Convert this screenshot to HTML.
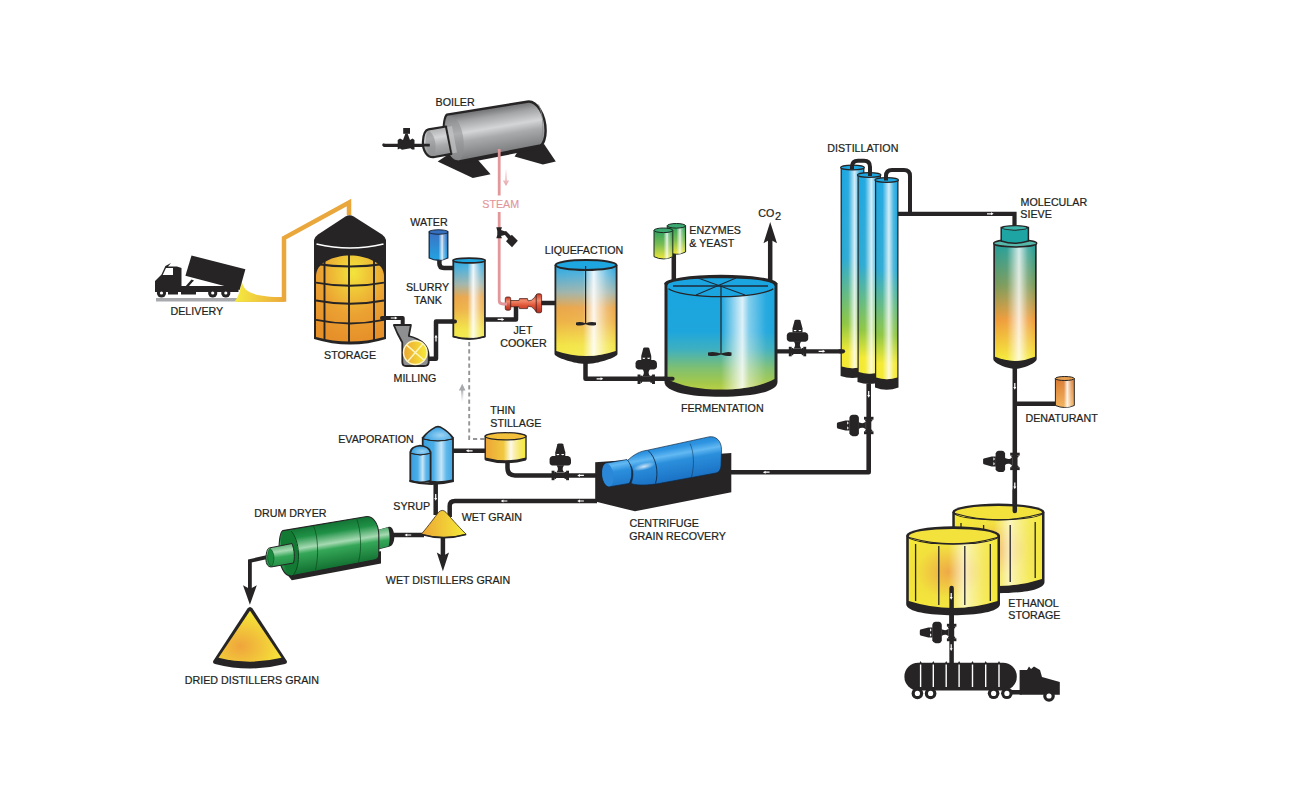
<!DOCTYPE html>
<html><head><meta charset="utf-8">
<style>
html,body{margin:0;padding:0;background:#fff;width:1300px;height:800px;overflow:hidden}
svg{display:block}
text{font-family:"Liberation Sans",sans-serif;font-size:10.7px;fill:#231f20;stroke:#231f20;stroke-width:0.22px}
</style></head>
<body>
<svg width="1300" height="800" viewBox="0 0 1300 800">
<defs>
  <linearGradient id="hl" x1="0" y1="0" x2="1" y2="0">
    <stop offset="0" stop-color="#fff" stop-opacity="0"/>
    <stop offset="0.45" stop-color="#fff" stop-opacity="0.05"/>
    <stop offset="0.63" stop-color="#fff" stop-opacity="0.9"/>
    <stop offset="0.7" stop-color="#fff" stop-opacity="0.65"/>
    <stop offset="0.85" stop-color="#fff" stop-opacity="0.25"/>
    <stop offset="1" stop-color="#fff" stop-opacity="0"/>
  </linearGradient>
  <linearGradient id="hl2" x1="0" y1="0" x2="1" y2="0">
    <stop offset="0" stop-color="#fff" stop-opacity="0"/>
    <stop offset="0.3" stop-color="#fff" stop-opacity="0.05"/>
    <stop offset="0.6" stop-color="#fff" stop-opacity="0.8"/>
    <stop offset="0.82" stop-color="#fff" stop-opacity="0.2"/>
    <stop offset="1" stop-color="#fff" stop-opacity="0"/>
  </linearGradient>
  <linearGradient id="gBOY" x1="0" y1="0" x2="0" y2="1">
    <stop offset="0" stop-color="#26a7e0"/>
    <stop offset="0.1" stop-color="#4cafda"/>
    <stop offset="0.3" stop-color="#9fb4ac"/>
    <stop offset="0.47" stop-color="#eaa64a"/>
    <stop offset="0.62" stop-color="#eeb246"/>
    <stop offset="0.88" stop-color="#f3e446"/>
    <stop offset="1" stop-color="#f4ea4c"/>
  </linearGradient>
  <linearGradient id="gBGY" x1="0" y1="0" x2="0" y2="1">
    <stop offset="0" stop-color="#1aa5e0"/>
    <stop offset="0.45" stop-color="#1ea6dc"/>
    <stop offset="0.62" stop-color="#3fb0bf"/>
    <stop offset="0.8" stop-color="#80c070"/>
    <stop offset="0.94" stop-color="#a6c94a"/>
    <stop offset="1" stop-color="#b8d048"/>
  </linearGradient>
  <linearGradient id="hl3" x1="0" y1="0" x2="1" y2="0">
    <stop offset="0" stop-color="#fff" stop-opacity="0"/>
    <stop offset="0.5" stop-color="#fff" stop-opacity="0"/>
    <stop offset="0.7" stop-color="#fff" stop-opacity="0.85"/>
    <stop offset="0.76" stop-color="#fff" stop-opacity="0.45"/>
    <stop offset="0.92" stop-color="#fff" stop-opacity="0.05"/>
    <stop offset="1" stop-color="#fff" stop-opacity="0"/>
  </linearGradient>
  <linearGradient id="gCol" x1="0" y1="0" x2="0" y2="1">
    <stop offset="0" stop-color="#1ba6e1"/>
    <stop offset="0.45" stop-color="#2aa9d3"/>
    <stop offset="0.78" stop-color="#8ec63f"/>
    <stop offset="0.92" stop-color="#f4ea2f"/>
    <stop offset="1" stop-color="#f4ea2f"/>
  </linearGradient>
  <linearGradient id="gSieve" x1="0" y1="0" x2="0" y2="1">
    <stop offset="0" stop-color="#1f9e9a"/>
    <stop offset="0.35" stop-color="#7a9a5a"/>
    <stop offset="0.65" stop-color="#ef9b38"/>
    <stop offset="1" stop-color="#f5ec36"/>
  </linearGradient>
  <linearGradient id="gGY" x1="0" y1="0" x2="0" y2="1">
    <stop offset="0" stop-color="#2a9f5e"/>
    <stop offset="0.5" stop-color="#7bbd52"/>
    <stop offset="1" stop-color="#f0e83c"/>
  </linearGradient>
  <linearGradient id="gBlue" x1="0" y1="0" x2="0" y2="1">
    <stop offset="0" stop-color="#3b72c4"/>
    <stop offset="1" stop-color="#22a3e2"/>
  </linearGradient>
  <linearGradient id="gOr" x1="0" y1="0" x2="0" y2="1">
    <stop offset="0" stop-color="#d9782e"/>
    <stop offset="1" stop-color="#f3b25a"/>
  </linearGradient>
  <radialGradient id="gGrain" cx="0.55" cy="0.2" r="0.8">
    <stop offset="0" stop-color="#f3e43c"/>
    <stop offset="0.6" stop-color="#eba232"/>
    <stop offset="1" stop-color="#e6902a"/>
  </radialGradient>
  <radialGradient id="gEth" cx="0.45" cy="0.5" r="0.6">
    <stop offset="0" stop-color="#eea640"/>
    <stop offset="0.6" stop-color="#f2e03a"/>
    <stop offset="1" stop-color="#f4e838"/>
  </radialGradient>
  <linearGradient id="gCone" x1="0" y1="0" x2="1" y2="0">
    <stop offset="0" stop-color="#eca535"/>
    <stop offset="1" stop-color="#f6ec38"/>
  </linearGradient>
  <radialGradient id="gCone2" cx="0.35" cy="0.7" r="0.7">
    <stop offset="0" stop-color="#efa43c"/>
    <stop offset="1" stop-color="#f5e838"/>
  </radialGradient>
  <linearGradient id="gGreen" x1="0" y1="0" x2="0" y2="1">
    <stop offset="0" stop-color="#1c8a3c"/>
    <stop offset="0.4" stop-color="#3fb060"/>
    <stop offset="1" stop-color="#137a30"/>
  </linearGradient>
  <linearGradient id="gGray" x1="0" y1="0" x2="0" y2="1">
    <stop offset="0" stop-color="#6b6c6e"/>
    <stop offset="0.45" stop-color="#c9cacc"/>
    <stop offset="1" stop-color="#6e6f71"/>
  </linearGradient>
  <linearGradient id="gCent" x1="0" y1="0" x2="0" y2="1">
    <stop offset="0" stop-color="#1f7fd0"/>
    <stop offset="0.4" stop-color="#49a6ea"/>
    <stop offset="1" stop-color="#1d6fc2"/>
  </linearGradient>
  <linearGradient id="gRed" x1="0" y1="0" x2="0" y2="1">
    <stop offset="0" stop-color="#c83a26"/>
    <stop offset="0.35" stop-color="#f28a6c"/>
    <stop offset="0.6" stop-color="#e0563a"/>
    <stop offset="1" stop-color="#b42e20"/>
  </linearGradient>
  <linearGradient id="gSpill" x1="0" y1="0" x2="1" y2="0">
    <stop offset="0" stop-color="#f5ec40"/>
    <stop offset="1" stop-color="#eca83a"/>
  </linearGradient>
  <linearGradient id="gArrGray" x1="0" y1="1" x2="0" y2="0">
    <stop offset="0" stop-color="#c8c9cb" stop-opacity="0"/>
    <stop offset="1" stop-color="#a0a2a5"/>
  </linearGradient>
  <g id="valve" fill="#262425">
    <rect x="-8.7" y="-4.7" width="2.9" height="9.5"/>
    <rect x="5.8" y="-4.7" width="2.9" height="9.5"/>
    <path d="M-6,-3.4 L-4.5,-3.6 L-4,-2.6 L4,-2.6 L4.5,-3.6 L6,-3.4 L6,3.4 L4.5,3.7 L4,2.6 L-4,2.6 L-4.5,3.7 L-6,3.4 Z"/>
    <path d="M-4.2,-2.8 C-1.8,-4.8 -1.8,-7.8 -3.8,-10.2 L3.8,-10.2 C1.8,-7.8 1.8,-4.8 4.2,-2.8 Z"/>
    <path d="M-7.8,-19.3 L7.8,-19.3 Q10.7,-18.5 10.7,-16 L10.7,-13 Q10.7,-10.5 7.8,-9.8 L-7.8,-9.8 Q-10.7,-10.5 -10.7,-13 L-10.7,-16 Q-10.7,-18.5 -7.8,-19.3 Z"/>
    <path d="M-5,-19 L-5,-23.2 L-2.9,-31.1 Q-2.6,-31.8 -1.6,-31.8 L1.6,-31.8 Q2.6,-31.8 2.9,-31.1 L5,-23.2 L5,-19 Z"/>
    <path d="M-3.9,-21.5 L-0.9,-21.5 Q-1.2,-20.2 -2.4,-20.2 Q-3.6,-20.2 -3.9,-21.5 Z M0.9,-21.5 L3.9,-21.5 Q3.6,-20.2 2.4,-20.2 Q1.2,-20.2 0.9,-21.5 Z" fill="#fff"/>
  </g>
  <path id="arr" d="M-3.4,-0.6 L0.6,-0.6 L0.6,-1.5 L3.3,0 L0.6,1.5 L0.6,0.6 L-3.4,0.6 Z" fill="#fff"/>
</defs>

<!-- ============ PIPES (behind) ============ -->
<g fill="none" stroke="#262425" stroke-width="4.5" stroke-linejoin="round">
  <!-- silo to mill -->
  <path d="M381,318 L402.7,318 L402.7,326" stroke-width="4"/>
  <!-- mill to slurry -->
  <path d="M427,358.7 L436,358.7 L436,321.4 L455,321.4"/>
  <!-- water to slurry -->
  <path d="M439.4,258 L439.4,263.5 Q439.4,268 444,268 L455,268"/>
  <!-- slurry to jet cooker -->
  <path d="M483,319.4 L516,319.4 L516,306"/>
  <!-- jet cooker to liquefaction -->
  <path d="M540,303 L557,303"/>
  <!-- liquefaction to fermentation -->
  <path d="M585.5,360 L585.5,378.8 L672,378.8"/>
  <!-- enzymes -->
  <path d="M673.8,250 L673.8,284"/>
  <!-- CO2 -->
  <path d="M770.2,282 L770.2,238"/>
  <!-- fermentation to distillation -->
  <path d="M776,351.3 L843,351.3" stroke-width="4.2"/>
  <!-- distillation top pipes -->
  
  
  <path d="M896,213.8 L1014.5,213.8 L1014.5,228" stroke-width="4.2" stroke-linejoin="miter"/>
  <!-- distillation bottom to centrifuge -->
  <path d="M868.7,384 L868.7,472.2 L729,472.2" stroke-width="4.6"/>
  <!-- centrifuge to thin stillage (top) -->
  <path d="M597,475.4 L515,475.4 Q507.5,475.4 507.5,468 L507.5,459"/>
  <!-- thin stillage to evaporator -->
  <path d="M487,450.8 L452,450.8"/>
  <!-- evaporator to cone -->
  <path d="M435.7,480 L435.7,515"/>
  <!-- centrifuge to wet grain -->
  <path d="M597,501 L455,501 Q449.7,501 449.7,506 L449.7,517"/>
  <!-- cone to dryer -->
  <path d="M424,535 L390,535"/>
  <!-- WDG arrow stem -->
  <path d="M442.9,536 L442.9,556"/>
  <!-- dryer to DDG -->
  <path d="M268,556.8 L249.9,561 L249.9,590" stroke-width="3.8" stroke-linejoin="miter"/>
  <!-- sieve to ethanol -->
  <path d="M1014.8,366 L1014.8,514"/>
  <path d="M1014.8,403.7 L1057,403.7"/>
  <!-- front tank to truck -->
  <path d="M951.6,586 L951.6,664"/>
  <!-- boiler valve pipe -->
  <path d="M383.7,145.4 L430,145.4" stroke-width="3"/>
</g>
<!-- arrowheads -->
<g fill="#262425">
  <path d="M763.5,243.2 L770.2,222 L777,243.2 L770.2,239.5 Z"/>
  <path d="M436.8,552.5 L442.9,571.3 L449,552.5 L442.9,556 Z"/>
  <path d="M243,585.2 L249.9,604.8 L256.8,585.2 L249.9,589 Z"/>
</g>
<!-- dashed -->
<path d="M469.2,342 L469.2,439 L487,439" fill="none" stroke="#939598" stroke-width="1.9" stroke-dasharray="4.2,3"/>
<rect x="461.1" y="389" width="2.2" height="13" fill="url(#gArrGray)"/>
<path d="M458.9,390.5 L462.2,383.8 L465.5,390.5 Z" fill="#a6a8ab"/>

<!-- orange conveyor -->
<path d="M238,299.5 L284,299.5 L284,238 L349,202.5 L349,215" fill="none" stroke="#e9a73c" stroke-width="4.5" stroke-linejoin="miter"/>

<!-- ============ DELIVERY TRUCK ============ -->
<g id="truck">
  <rect x="156" y="298" width="82" height="3.5" fill="#a7a9ac"/>
  <path d="M241.5,280.5 C243.5,291 249,296.5 284,297.3 L284,301.7 L234.5,301.7 C239,296 240.5,290 241.5,280.5 Z" fill="url(#gSpill)"/>
  <g fill="#262425">
    <path d="M191.5,255.4 L245.4,269.2 L239.6,290 L185.4,275.8 Z"/>
    <path d="M155,281 L161.5,274.6 L165.4,266 L170,263.5 L171,263 L168,266.5 L177,266.5 L181.5,268 L181.5,286 L238.5,286 L238.5,292 L196,292 L196,294.5 L181,294.5 L181,292 L178,292 L178,294.5 L168,294.5 L168,292 L155,292 Z"/>
    <path d="M185.4,286.5 L191.5,279.5 L194,280.5 L189.5,286.5 Z"/>
    <circle cx="161.5" cy="293" r="4.6"/>
    <circle cx="212.7" cy="293" r="4.6"/>
    <circle cx="225.8" cy="293" r="4.6"/>
  </g>
  <path d="M162.7,275 L166,268 L173,268 L173,275 Z" fill="#fff"/>
  <path d="M189,286 L193,281.5 L218,286 Z" fill="#fff"/>
  <g fill="#fff"><circle cx="161.5" cy="293" r="1.6"/><circle cx="212.7" cy="293" r="1.6"/><circle cx="225.8" cy="293" r="1.6"/></g>
</g>

<!-- ============ STORAGE SILO ============ -->
<g id="silo">
  <path d="M314,240 Q315,236.5 318,234.5 L345.5,216.5 Q349.6,214.2 353.7,216.5 L382,234.5 Q385,236.5 386,240 L386,339 Q350,350 314,339 Z" fill="#262425"/>
  <path d="M316.5,244 Q350,252 383.5,244" fill="none" stroke="#fff" stroke-width="1.7"/>
  <path d="M316,276 C316,263 333,255.5 350,255.5 C367,255.5 384,263 384,276 L384,337 Q350,346 316,337 Z" fill="url(#gGrain)"/>
  <g fill="none" stroke="#262425" stroke-width="1.9">
    <path d="M324.5,258 L324.5,341 M349,255 L349,344 M374,258 L374,341"/>
    <path d="M316,264 Q350,269 384,264 M316,282.6 Q350,289 384,282.6 M316,300.5 Q350,307 384,300.5 M316,319.9 Q350,327 384,319.9"/>
  </g>
</g>

<!-- ============ MILL ============ -->
<g id="mill">
  <path d="M393.8,325 L410.9,325 L408.8,336 Q428.7,341 428.7,356 L428.7,362 Q428.7,366 424,366 L406,366 Q402.3,366 402.3,362 L402.3,342.5 L397.5,333.5 Z" fill="#8e8f91" stroke="#262425" stroke-width="1.8" stroke-linejoin="round"/>
  <circle cx="415.3" cy="352.6" r="11.8" fill="url(#gCone)" stroke="#fff5c0" stroke-width="1.5"/>
  <path d="M407,344.3 L423.6,360.9 M423.6,344.3 L407,360.9" stroke="#fff5c0" stroke-width="1.4" transform="rotate(-4 415.3 352.6)"/>
</g>

<!-- ============ WATER ============ -->
<g id="water">
  <path d="M429.2,232 L429.2,258 Q438.5,262.5 447.8,258 L447.8,232 Z" fill="url(#gBlue)" stroke="#1a2a40" stroke-width="1.3"/>
  <path d="M429.2,232 L429.2,258 Q438.5,262.5 447.8,258 L447.8,232 Z" fill="url(#hl3)"/>
  <ellipse cx="438.5" cy="232" rx="9.3" ry="2.2" fill="#3570c0" stroke="#1a2a40" stroke-width="1.1"/>
</g>

<!-- ============ SLURRY TANK ============ -->
<g id="slurry">
  <path d="M453.3,260.5 L453.3,336.5 Q469.1,341 484.9,336.5 L484.9,260.5 Z" fill="url(#gBOY)" stroke="#262425" stroke-width="1.8"/>
  <path d="M453.3,260.5 L453.3,336.5 Q469.1,341 484.9,336.5 L484.9,260.5 Z" fill="url(#hl)"/>
  <path d="M453.3,336 Q469.1,340.5 484.9,336 L484.9,337.5 Q469.1,342 453.3,337.5 Z" fill="#262425"/>
  <ellipse cx="469.1" cy="260.5" rx="15.8" ry="2.4" fill="#1ea6e0" stroke="#262425" stroke-width="1.6"/>
</g>

<!-- ============ JET COOKER ============ -->
<g id="jet" stroke="#3a1410" stroke-width="0.7">
  <path d="M510,300.5 L519,300.5 L519.5,298.6 L527.5,298.6 L528,300.9 Q532,301 534.5,297.5 L536.5,294.5 L536.5,312.3 L534.5,309.5 Q532,306 528,306.2 L527.5,308.6 L519.5,308.6 L519,306.8 L510,306.8 Z" fill="url(#gRed)"/>
  <rect x="505.3" y="297" width="5.4" height="13.2" rx="1.6" fill="url(#gRed)"/>
  <rect x="536.2" y="293.8" width="5.4" height="19" rx="1.6" fill="url(#gRed)"/>
</g>

<!-- ============ LIQUEFACTION ============ -->
<g id="liq">
  <path d="M554.5,265 L554.5,354 C554.5,357 570,362 580,363.6 Q586,364.5 592,363.6 C602,362 617.5,357 617.5,354 L617.5,265 Z" fill="#262425"/>
  <path d="M556.3,265 L556.3,351 Q586,361 615.7,351 L615.7,265 Z" fill="url(#gBOY)"/>
  <path d="M556.3,265 L556.3,351 Q586,361 615.7,351 L615.7,265 Z" fill="url(#hl)"/>
  <ellipse cx="586" cy="265" rx="30.5" ry="5" fill="#1ea6e0" stroke="#262425" stroke-width="2"/>
  <path d="M585.6,266 L585.6,323.8" stroke="#262425" stroke-width="1.2"/>
  <path d="M576,322.5 Q580,321 585.6,323.3 Q591,321 596,322.5 L596,325 Q591,326.5 585.6,324.3 Q580,326.5 576,325 Z" fill="#262425"/>
</g>

<!-- ============ ENZYMES ============ -->
<g id="enz">
  <path d="M667.2,225.8 L667.2,252 Q676.4,256.5 685.6,252 L685.6,225.8 Z" fill="url(#gGY)" stroke="#1a2a20" stroke-width="1"/>
  <path d="M667.2,225.8 L667.2,252 Q676.4,256.5 685.6,252 L685.6,225.8 Z" fill="url(#hl3)"/>
  <ellipse cx="676.4" cy="225.8" rx="9.2" ry="2.3" fill="#3aa870" stroke="#1a2a20" stroke-width="1"/>
  <path d="M654,230.3 L654,256.7 Q663.4,261.2 672.8,256.7 L672.8,230.3 Z" fill="url(#gGY)" stroke="#1a2a20" stroke-width="1"/>
  <path d="M654,230.3 L654,256.7 Q663.4,261.2 672.8,256.7 L672.8,230.3 Z" fill="url(#hl3)"/>
  <ellipse cx="663.4" cy="230.3" rx="9.4" ry="2.3" fill="#3aa870" stroke="#1a2a20" stroke-width="1"/>
</g>

<!-- ============ FERMENTATION ============ -->
<g id="ferm">
  <path d="M664.5,283 L664.5,382 C664.5,392 690,396.8 721,396.8 C752,396.8 777.5,392 777.5,382 L777.5,283 Z" fill="#262425"/>
  <path d="M667.5,284 L667.5,379 C680,386 700,389.6 721,389.6 C742,389.6 762,386 774.5,379 L774.5,284 Z" fill="url(#gBGY)"/>
  <path d="M667.5,284 L667.5,379 C680,386 700,389.6 721,389.6 C742,389.6 762,386 774.5,379 L774.5,284 Z" fill="url(#hl3)"/>
  
  <ellipse cx="720.8" cy="283.6" rx="56.5" ry="8.8" fill="#262425"/>
  <path d="M667.5,285.5 C667.5,281 690,278.3 720.8,278.3 C751.5,278.3 774.3,281 774.3,285.5 L774.3,287.5 C770,292.5 748,296.6 720.8,296.6 C693.5,296.6 672,292.5 667.5,287.5 Z" fill="#1aa5e0"/>
  <path d="M668.5,288.8 C674,293 695,296.6 720.8,296.6 C746.5,296.6 767.5,293 773.3,288.8" fill="none" stroke="#262425" stroke-width="1.3"/>
  <g stroke="#1d2a3a" fill="none">
    <path d="M673,286 L768,286" stroke-width="1.6"/>
    <path d="M698,278 L745,295 M736,278 L696,295" stroke-width="1.1"/>
  </g>
  <path d="M721,286 L721,354" stroke="#262425" stroke-width="1.2"/>
  <path d="M708,352.5 Q714,351 721,353.5 Q728,351 731.5,352.5 L731.5,355.5 Q728,357 721,354.5 Q714,357 708,355.5 Z" fill="#262425"/>
</g>

<!-- ============ DISTILLATION COLUMNS ============ -->
<g id="cols">
  <g>
    <path d="M840.6,167.5 L840.6,376 Q852.5,380 864.4,376 L864.4,167.5 Z" fill="#262425"/>
    <path d="M841.8,168 L841.8,366.5 Q852.5,370 863.2,366.5 L863.2,168 Z" fill="url(#gCol)"/>
    <path d="M841.8,168 L841.8,366.5 Q852.5,370 863.2,366.5 L863.2,168 Z" fill="url(#hl2)"/>
    <ellipse cx="852.5" cy="167.5" rx="11.9" ry="2.4" fill="#1ba6e1" stroke="#262425" stroke-width="1.2"/>
  </g>
  <g>
    <path d="M857.5,175 L857.5,382 Q869.2,386 881,382 L881,175 Z" fill="#262425"/>
    <path d="M858.7,175.5 L858.7,372 Q869.2,375.5 879.8,372 L879.8,175.5 Z" fill="url(#gCol)"/>
    <path d="M858.7,175.5 L858.7,372 Q869.2,375.5 879.8,372 L879.8,175.5 Z" fill="url(#hl2)"/>
    <ellipse cx="869.2" cy="175" rx="11.8" ry="2.4" fill="#1ba6e1" stroke="#262425" stroke-width="1.2"/>
  </g>
  <g>
    <path d="M875,180 L875,387.5 Q886.7,392 898.5,387.5 L898.5,180 Z" fill="#262425"/>
    <path d="M876.2,180.5 L876.2,377.5 Q886.7,381 897.3,377.5 L897.3,180.5 Z" fill="url(#gCol)"/>
    <path d="M876.2,180.5 L876.2,377.5 Q886.7,381 897.3,377.5 L897.3,180.5 Z" fill="url(#hl2)"/>
    <ellipse cx="886.7" cy="180" rx="11.8" ry="2.4" fill="#1ba6e1" stroke="#262425" stroke-width="1.2"/>
  </g>
  <path d="M852,169.5 L852,167 Q852,160.8 858,160.8 L864,160.8 Q870,160.8 870,167 L870,176" fill="none" stroke="#262425" stroke-width="4"/>
  <path d="M886,180.5 L886,176 Q886,170 892,170 L904,170 Q910,170 910,176 L910,213.8" fill="none" stroke="#262425" stroke-width="4"/>
</g>

<!-- ============ MOLECULAR SIEVE ============ -->
<g id="sieve">
  <path d="M993.3,244 L993.3,359 C993.3,362 1000,365.5 1008,367.8 Q1015,370 1022,367.8 C1030,365.5 1036.7,362 1036.7,359 L1036.7,244 Z" fill="#262425"/>
  <path d="M995,244 L995,356.8 Q1015,365 1035,356.8 L1035,244 Z" fill="url(#gSieve)"/>
  <path d="M995,244 L995,356.8 Q1015,365 1035,356.8 L1035,244 Z" fill="url(#hl2)"/>
  <ellipse cx="1015.2" cy="243.3" rx="21.5" ry="3.6" fill="#55b8ab" stroke="#262425" stroke-width="1.5"/>
  <path d="M1001.2,227.5 L1001.2,241 Q1014.8,245.5 1028.4,241 L1028.4,227.5 Z" fill="#1ea5a3" stroke="#262425" stroke-width="1.5"/>
  <ellipse cx="1014.8" cy="227.5" rx="13.6" ry="2.4" fill="#262425"/>
  <ellipse cx="1014.8" cy="228" rx="11.8" ry="1.8" fill="#3db5ad"/>
  <path d="M1003.5,229 Q1014.8,232 1026,229" fill="none" stroke="#262425" stroke-width="0.8"/>
</g>

<!-- ============ DENATURANT ============ -->
<g id="denat">
  <path d="M1055.4,378.5 L1055.4,405.5 Q1064.8,409.5 1074.3,405.5 L1074.3,378.5 Z" fill="url(#gOr)" stroke="#262425" stroke-width="1"/>
  <path d="M1055.4,378.5 L1055.4,405.5 Q1064.8,409.5 1074.3,405.5 L1074.3,378.5 Z" fill="url(#hl)"/>
  <ellipse cx="1064.8" cy="378.5" rx="9.45" ry="2" fill="#e8a050" stroke="#262425" stroke-width="1"/>
</g>

<!-- ============ ETHANOL STORAGE ============ -->
<g id="eth">
  <path d="M952.3,512 L952.3,582 C952.3,590 975,593.2 998.4,593.2 C1022,593.2 1044.5,590 1044.5,582 L1044.5,512 Z" fill="#262425"/>
  <path d="M954.8,513 L954.8,579 Q998.4,593 1042,579 L1042,513 Z" fill="url(#gEth)"/>
  <path d="M954.8,513 L954.8,579 Q998.4,593 1042,579 L1042,513 Z" fill="url(#hl)" opacity="0.75"/>
  <ellipse cx="998.4" cy="512" rx="46.1" ry="8.4" fill="#262425"/>
  <ellipse cx="998.4" cy="512.6" rx="43.6" ry="6.6" fill="#f3e23c"/>
  <path d="M955,513.5 Q998.4,526 1042,513.5" fill="none" stroke="#262425" stroke-width="1.1"/>
  <g stroke="#262425" stroke-width="1.3"><path d="M961,523 L961,578 M983.6,525 L983.6,582 M1010.2,525 L1010.2,582 M1035.2,522 L1035.2,578"/></g>

  <path d="M906.2,535.5 L906.2,604 C906.2,612 930,615.2 953.1,615.2 C976,615.2 1000,612 1000,604 L1000,535.5 Z" fill="#262425"/>
  <path d="M908.8,536 L908.8,601 Q953.1,615 997.5,601 L997.5,536 Z" fill="url(#gEth)"/>
  <path d="M908.8,536 L908.8,601 Q953.1,615 997.5,601 L997.5,536 Z" fill="url(#hl)" opacity="0.75"/>
  <ellipse cx="953.1" cy="535.5" rx="46.9" ry="9.3" fill="#262425"/>
  <ellipse cx="953.1" cy="536.2" rx="44.3" ry="7.3" fill="#f3e23c"/>
  <path d="M909,537.5 Q953.1,550 997.3,537.5" fill="none" stroke="#262425" stroke-width="1.1"/>
  <g stroke="#262425" stroke-width="1.3"><path d="M915.6,544 L915.6,601 M938.8,546 L938.8,605 M964.8,546 L964.8,605 M990.3,544 L990.3,601"/></g>
</g>
<path d="M1014.8,490 L1014.8,511" fill="none" stroke="#262425" stroke-width="4.5" stroke-linecap="round"/>
<path d="M951.6,588 L951.6,625" fill="none" stroke="#262425" stroke-width="4.5" stroke-linecap="round"/>

<!-- ============ TANKER TRUCK ============ -->
<g id="tanker" fill="#262425">
  <rect x="904.4" y="662.8" width="112.4" height="27.7" rx="13.8"/>
  <path d="M1019.6,670 L1027,670 L1029,666.5 L1031,669 L1034,666.5 L1040,670 L1042,677 L1059.8,682 L1059.8,694.7 L1019.6,694.7 Z"/>
  <rect x="1010" y="690" width="12" height="4.5"/>
  <circle cx="917.4" cy="693.4" r="5.8"/><circle cx="930.6" cy="693.4" r="5.8"/>
  <circle cx="993.6" cy="693.3" r="5.8"/><circle cx="1006.9" cy="693.3" r="5.8"/>
  <circle cx="1049" cy="696" r="5.8"/>
  <g fill="#fff"><circle cx="917.4" cy="693.4" r="2.6"/><circle cx="930.6" cy="693.4" r="2.6"/><circle cx="993.6" cy="693.4" r="2.6"/><circle cx="1006.9" cy="693.4" r="2.6"/><circle cx="1049" cy="696" r="2.6"/></g>
  <path d="M919.3000000000001,663.5 L920.6,661 L921.9,663.5 Z M932.0,663.5 L933.3,661 L934.5999999999999,663.5 Z M944.9000000000001,663.5 L946.2,661 L947.5,663.5 Z M957.8000000000001,663.5 L959.1,661 L960.4,663.5 Z M971.2,663.5 L972.5,661 L973.8,663.5 Z M984.4000000000001,663.5 L985.7,661 L987.0,663.5 Z M997.7,663.5 L999,661 L1000.3,663.5 Z"/>
  <g stroke="#fff" stroke-width="1.4"><path d="M920.6,664.5 L920.6,687 M933.3,664.5 L933.3,687 M946.2,664.5 L946.2,687 M959.1,664.5 L959.1,687 M972.5,664.5 L972.5,687 M985.7,664.5 L985.7,687 M999,664.5 L999,687"/></g>
</g>

<!-- ============ BOILER ============ -->
<g id="boiler">
  <path d="M437.7,161.4 L472.8,178 L490.6,174.3 L478,160 L455,150 Z" fill="#262425"/>
  <path d="M514.6,156.5 L542.9,164.5 L555.8,161.4 L544,144 L520,148 Z" fill="#262425"/>
  <path d="M452,159 L540.5,142.5 L544,147.8 L459.2,164.3 Z" fill="#262425"/>
  <linearGradient id="gBoil" gradientUnits="userSpaceOnUse" x1="490" y1="108" x2="498" y2="155">
    <stop offset="0" stop-color="#6e6f71"/>
    <stop offset="0.18" stop-color="#a4a5a7"/>
    <stop offset="0.42" stop-color="#d4d5d6"/>
    <stop offset="0.6" stop-color="#a9aaac"/>
    <stop offset="1" stop-color="#77787a"/>
  </linearGradient>
  <path d="M446.9,114.6 L527,101.7 C537,100 545.5,115 545.6,130.6 C545.7,138 543.5,144 540.5,145.4 L459.2,161.4 C451,163 443.5,150 443.5,136 C443.5,125 444.5,116.5 446.9,114.6 Z" fill="url(#gBoil)" stroke="#262425" stroke-width="2.4" stroke-linejoin="round"/>
  <path d="M447.5,116 C441,124 444,156 458.5,160.5 C463,159 465,150 463,136 C461,124 455,114 447.5,116 Z" fill="#8d8e90" opacity="0.55"/>
  <path d="M538.5,104.5 C544,115 544,136 540,144" fill="none" stroke="#8a8b8d" stroke-width="0.8"/>
  <path d="M428.5,129.4 L446,126.5 L451.5,153.8 L434.6,157 C427,158.5 422.5,150 422.9,141.7 C423.3,134 425.5,130 428.5,129.4 Z" fill="url(#gBoil)" stroke="#262425" stroke-width="2.2" stroke-linejoin="round"/>
  <path d="M428.5,130.5 C424,136 424,152 433,156 C437,152 437,136 428.5,130.5 Z" fill="#909193" opacity="0.6"/>
  <path d="M447,127 L452,126 L457,152.5 L452,153.5 Z" fill="#d0d1d2" opacity="0.5"/>
</g>
<g fill="#262425">
  <path d="M383.2,143.7 L429.8,143.7 L429.8,146.4 L383.2,146.4 Z"/>
  <circle cx="383.6" cy="145" r="1.4"/>
  <path d="M397.7,140 L400,138.5 L403,140 L404.5,136 L405.5,133.5 L407.5,133.5 L408.5,136 L410,140 L412.5,138.5 L414.5,140 L414.5,149.5 L412,149.5 L410.5,148.2 L402,149.8 L400,148.5 L397.7,149.5 Z"/>
  <rect x="403.2" y="128" width="6.8" height="5.8"/>
</g>

<!-- steam -->
<g fill="none" stroke="#e2979a" stroke-width="2.8">
  <path d="M499.2,149 L499.2,195.5"/>
  <path d="M499.2,212 L499.2,300.5 Q499.2,304 503,304 L507,304"/>
  
</g>
<linearGradient id="gSteamArr" x1="0" y1="0" x2="0" y2="1"><stop offset="0" stop-color="#e6a2a5" stop-opacity="0"/><stop offset="1" stop-color="#e6a2a5"/></linearGradient>
<path d="M505.1,168.5 L506.9,168.5 L506.9,180.5 L509.2,180.5 L506,186 L502.8,180.5 L505.1,180.5 Z" fill="url(#gSteamArr)"/>
<text x="482.3" y="207.8" style="fill:#e2979a;stroke:#e2979a;stroke-width:0.15px">STEAM</text>
<!-- ============ EVAPORATION ============ -->
<g id="evap">
  <linearGradient id="gEvap" x1="0" y1="0" x2="1" y2="0">
    <stop offset="0" stop-color="#3a9fdf"/>
    <stop offset="0.35" stop-color="#4aaee8"/>
    <stop offset="0.62" stop-color="#c6e6f8"/>
    <stop offset="0.8" stop-color="#5fb8ec"/>
    <stop offset="1" stop-color="#45a8e4"/>
  </linearGradient>
  <radialGradient id="gEvapTop" cx="0.6" cy="0.6" r="0.6">
    <stop offset="0" stop-color="#9ed4f4"/>
    <stop offset="1" stop-color="#3aa2e2"/>
  </radialGradient>
  <path d="M421.8,481 Q437.8,486 453.9,481 L453.9,437.5 Q449,431 440.5,426.3 Q438,425 435.5,426.3 Q427,431 421.8,437.5 Z" fill="#262425"/>
  <path d="M423.6,479.5 L423.6,439.5 Q437.8,443 452.1,439.5 L452.1,479.5 Q437.8,483 423.6,479.5 Z" fill="url(#gEvap)"/>
  <path d="M423.6,438.5 Q428,432 436,427.8 Q438,427 440,427.8 Q448,432 452.1,438.5 Q437.8,442.5 423.6,438.5 Z" fill="url(#gEvapTop)"/>
  <path d="M423.6,439 Q437.8,443 452.1,439" fill="none" stroke="#262425" stroke-width="1"/>
  <path d="M409.4,481.5 Q420,485 431.5,481.5 L431.5,452 Q430,446 420,444.8 Q410,446 409.4,452 Z" fill="#262425"/>
  <path d="M411.2,480 L411.2,453.8 Q420,456.5 429.7,453.8 L429.7,480 Q420,483 411.2,480 Z" fill="url(#gEvap)"/>
  <path d="M411.2,453 Q412,447 420,446.6 Q428.5,447 429.7,453 Q420,456 411.2,453 Z" fill="url(#gEvapTop)"/>
  <path d="M411.2,453.5 Q420,456.5 429.7,453.5" fill="none" stroke="#262425" stroke-width="1"/>
  <path d="M409.4,480 Q431,486 453.9,480 L453.9,482 Q431,488 409.4,482 Z" fill="#262425"/>
</g>

<!-- ============ THIN STILLAGE ============ -->
<g id="thin">
  <path d="M485.2,436.3 L485.2,459 Q505.6,464.5 526,459 L526,436.3 Z" fill="url(#gCone)" stroke="#262425" stroke-width="1.4"/>
  <path d="M485.2,436.3 L485.2,459 Q505.6,464.5 526,459 L526,436.3 Z" fill="url(#hl)"/>
  <path d="M485.2,457.5 Q505.6,463 526,457.5 L526,460.5 Q505.6,466.2 485.2,460.5 Z" fill="#262425"/>
  <ellipse cx="505.6" cy="436.3" rx="20.4" ry="3.6" fill="#f2c03a" stroke="#262425" stroke-width="1.3"/>
</g>

<!-- ============ CENTRIFUGE ============ -->
<g id="cent">
  <path d="M595.2,462.3 L731.3,453.1 L731.3,492.3 L635,511.3 L595.2,501.5 Z" fill="#262425"/>
  <linearGradient id="gCent2" gradientUnits="userSpaceOnUse" x1="662" y1="440" x2="670" y2="485">
    <stop offset="0" stop-color="#1c7fd0"/>
    <stop offset="0.22" stop-color="#2f95e2"/>
    <stop offset="0.36" stop-color="#62b8f2"/>
    <stop offset="0.5" stop-color="#2b8fdc"/>
    <stop offset="1" stop-color="#186cc0"/>
  </linearGradient>
  <path d="M627,461 C633,455 640,451 647.7,450.2 L708.8,436.9 C716,435.5 721.5,441 721.5,449.6 L721,466 C720.5,470 719,472.5 716,473 L659,483.5 C650,485 638,486 631,483.5 C634,476 634,467 627,461 Z" fill="url(#gCent2)" stroke="#0e2a48" stroke-width="0.7"/>
  <path d="M607,463 L627,459.5 C633,466 633,478 629,483.5 L611,486.5 C605,487.5 602,480 602.1,474.5 C602.2,468 604,463.5 607,463 Z" fill="url(#gCent2)" stroke="#0e2a48" stroke-width="0.7"/>
  <ellipse cx="607.8" cy="475" rx="5.6" ry="11.6" transform="rotate(-8 607.8 475)" fill="#2b88d8"/>
  <path d="M648,450.5 C656,457 659,472 655.5,483.5" fill="none" stroke="#0e2a48" stroke-width="0.9"/>
  <path d="M690,443.5 C694,452 694.5,466 691.5,477" fill="none" stroke="#0e2a48" stroke-width="0.5"/>
  <radialGradient id="gCentHL"><stop offset="0" stop-color="#fff" stop-opacity="0.75"/><stop offset="1" stop-color="#fff" stop-opacity="0"/></radialGradient>
  <ellipse cx="644" cy="466.5" rx="12" ry="3.6" transform="rotate(-14 644 466.5)" fill="url(#gCentHL)"/>
</g>

<!-- ============ CONE (wet grain) ============ -->
<path d="M421.3,534.3 C429,525 435,517 438.5,512.3 Q442.3,508.5 446,512.3 C450,517 457,525 466.2,534.3 Q443.7,541 421.3,534.3 Z" fill="url(#gCone)" stroke="#3a2a10" stroke-width="0.8"/>
<path d="M421.5,534.5 Q443.7,540.8 466,534.5" fill="none" stroke="#262425" stroke-width="1.8"/>

<!-- ============ DRUM DRYER ============ -->
<g id="dryer">
  <linearGradient id="gDry" gradientUnits="userSpaceOnUse" x1="326" y1="520" x2="334" y2="570">
    <stop offset="0" stop-color="#0f6a2e"/>
    <stop offset="0.25" stop-color="#1f9146"/>
    <stop offset="0.47" stop-color="#a6dab2"/>
    <stop offset="0.58" stop-color="#35a758"/>
    <stop offset="1" stop-color="#0e6a2c"/>
  </linearGradient>
  <path d="M281.8,568 L291.8,580.3 L381,563.5 L381,551.3 L300,560 Z" fill="#262425"/>
  <path d="M376,530.5 L389,526.7 C392.5,526 394.3,532 394.3,537 C394.3,542 392.5,546 389,546.8 L378,549.5 Z" fill="#262425"/>
  <path d="M376,530.5 L388,527.2 C390,532 390,542 388.5,546.3 L378,549 Z" fill="url(#gDry)"/>
  <path d="M282.9,530.6 L365.4,516.7 C372,515.5 378.5,522 378.8,535 L378.8,555 C378.8,558 377,559.5 374,560 L291.8,575.8 C284,577 279,565 279,552 C279,540 280.5,532 282.9,530.6 Z" fill="url(#gDry)" stroke="#262425" stroke-width="1.1"/>
  <path d="M283.5,531 C278.5,540 279,566 291.5,575.5 C300,571 301,545 291.5,531.5 Z" fill="#137a34"/>
  <path d="M291,531 C300,540 301,566 293.5,574.5" fill="none" stroke="#0a4a1e" stroke-width="1"/>
  <path d="M313.5,525.8 C318,536 319,556 315.5,570" fill="none" stroke="#0a4a1e" stroke-width="0.7"/>
  <path d="M356.5,518.5 C361,530 362,549 358.5,562" fill="none" stroke="#0a4a1e" stroke-width="0.7"/>
  <path d="M269.5,547.9 L292,543.5 C294.5,550 295,558 293.5,563 L271.7,566.9 C267,567.5 265.5,562 266,556.8 C266.5,551 267.5,548.3 269.5,547.9 Z" fill="url(#gDry)" stroke="#262425" stroke-width="1"/>
  <path d="M270,548.5 C266.5,552 266.5,563 271.5,566.5 C275,562 275,552 270,548.5 Z" fill="#1a8a3e" stroke="#0a4a1e" stroke-width="0.6"/>
</g>

<!-- ============ DDG CONE ============ -->
<path d="M247.5,608.5 Q250,605.5 252.5,608.5 L286.5,660.5 Q288,663 285,664 Q250,673 215,664 Q212,663 213.5,660.5 Z" fill="#262425"/>
<path d="M250,610.8 L281.5,657.8 Q250,665.5 218.5,657.8 Z" fill="url(#gCone2)"/>

<!-- ============ VALVES ============ -->
<use href="#valve" transform="translate(646.25,379.2)"/>
<use href="#valve" transform="translate(797.5,351.5)"/>
<use href="#valve" transform="translate(560.3,475.4)"/>
<use href="#valve" transform="translate(868.7,425.5) rotate(-90)"/>
<use href="#valve" transform="translate(1014.9,461.4) rotate(-90)"/>
<use href="#valve" transform="translate(951.6,632.5) rotate(-90)"/>
<g fill="#262425">
  <path d="M496.3,227.3 L502,227.3 L501,230 L506.7,232 L506.7,234.5 L501,236 L502,238.3 L496.3,238.3 L497.3,235 L497.3,231 Z"/>
  <path d="M503,232.5 L506,231 L511.5,236.5 L508.5,239.5 Z"/>
  <path d="M506,241.2 L511.8,234.8 L517.8,240.8 L512,247.2 Z"/>
</g>

<g fill="none" stroke="#262425" stroke-width="4" stroke-linecap="round">
  <path d="M664,378.8 L672.6,378.8"/>
  <path d="M452,321.4 L455,321.4"/>
  <path d="M382,318 L386,318" stroke-width="4"/>
  <path d="M840,351.3 L843,351.3" stroke-width="4.2"/>
</g>
<g id="arrows">
  <use href="#arr" transform="translate(394.2,318) rotate(0)"/>
  <use href="#arr" transform="translate(436,338) rotate(-90)"/>
  <use href="#arr" transform="translate(501,319.4) rotate(0)"/>
  <use href="#arr" transform="translate(600,378.8) rotate(0)"/>
  <use href="#arr" transform="translate(822,351.3) rotate(0)"/>
  <use href="#arr" transform="translate(990.4,213.8) rotate(0)"/>
  <use href="#arr" transform="translate(868.7,394.4) rotate(90)"/>
  <use href="#arr" transform="translate(766.2,472.2) rotate(180)"/>
  <use href="#arr" transform="translate(580.5,475.4) rotate(180)"/>
  <use href="#arr" transform="translate(580.5,501) rotate(180)"/>
  <use href="#arr" transform="translate(469.2,450.8) rotate(180)"/>
  <use href="#arr" transform="translate(435.7,497.5) rotate(90)"/>
  <use href="#arr" transform="translate(504,501) rotate(180)"/>
  <use href="#arr" transform="translate(407.8,535) rotate(180)"/>
  <use href="#arr" transform="translate(1014.8,386.5) rotate(90)"/>
  <use href="#arr" transform="translate(1014.8,486) rotate(90)"/>
  <use href="#arr" transform="translate(951.2,596.5) rotate(90)"/>
  <use href="#arr" transform="translate(951.2,647.6) rotate(90)"/>
</g>
<!-- ============ LABELS ============ -->
<g>
  <text x="435.5" y="106">BOILER</text>
  <text x="410.3" y="226">WATER</text>
  <text x="405.9" y="291">SLURRY</text>
  <text x="414.1" y="303.6">TANK</text>
  <text x="170.5" y="314.7">DELIVERY</text>
  <text x="324" y="358.6">STORAGE</text>
  <text x="393.5" y="381.5">MILLING</text>
  <text x="513.5" y="334.4">JET</text>
  <text x="500.3" y="347">COOKER</text>
  <text x="544.8" y="254.3">LIQUEFACTION</text>
  <text x="689.3" y="234.4">ENZYMES</text>
  <text x="689.3" y="247.3">&amp; YEAST</text>
  <text x="758.2" y="217">CO<tspan dx="0.8" dy="2.8" style="font-size:11px">2</tspan></text>
  <text x="680.9" y="411.8">FERMENTATION</text>
  <text x="827.3" y="151.5">DISTILLATION</text>
  <text x="1020.6" y="206">MOLECULAR</text>
  <text x="1020.3" y="218">SIEVE</text>
  <text x="1025.5" y="422.3">DENATURANT</text>
  <text x="1008.3" y="606.7">ETHANOL</text>
  <text x="1008.3" y="619">STORAGE</text>
  <text x="338.2" y="443.3">EVAPORATION</text>
  <text x="490.3" y="414">THIN</text>
  <text x="490.3" y="426.8">STILLAGE</text>
  <text x="393.3" y="509.7">SYRUP</text>
  <text x="461.7" y="521">WET GRAIN</text>
  <text x="629.5" y="527.2">CENTRIFUGE</text>
  <text x="629.3" y="540">GRAIN RECOVERY</text>
  <text x="254.3" y="517">DRUM DRYER</text>
  <text x="385.8" y="583.9">WET DISTILLERS GRAIN</text>
  <text x="184.8" y="684.3">DRIED DISTILLERS GRAIN</text>
</g>
</svg>
</body></html>
